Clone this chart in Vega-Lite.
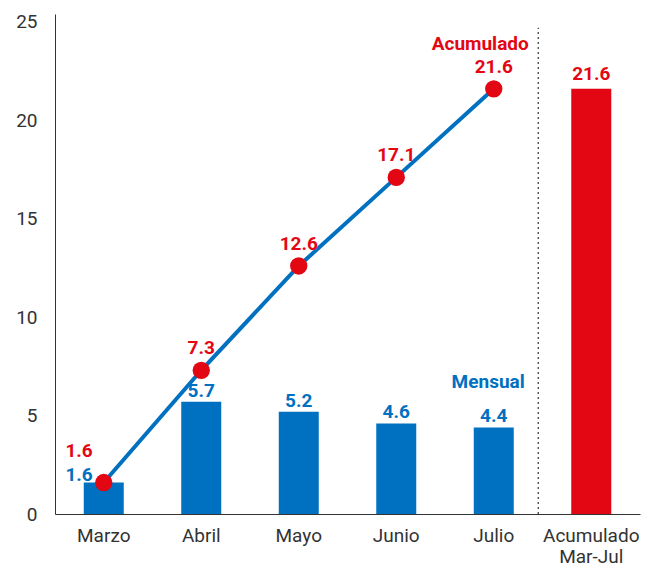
{
  "$schema": "https://vega.github.io/schema/vega-lite/v6.json",
  "width": 585,
  "height": 500,
  "autosize": "none",
  "padding": {"left": 55, "top": 14, "right": 5, "bottom": 56},
  "background": "white",
  "config": {
    "font": "Liberation Sans Narrow, Roboto, sans-serif",
    "view": {"stroke": null},
    "axis": {"grid": false}
  },
  "datasets": {
    "meses": [
      {"mes": "Marzo", "mensual": 1.6, "acumulado": 1.6},
      {"mes": "Abril", "mensual": 5.7, "acumulado": 7.3},
      {"mes": "Mayo", "mensual": 5.2, "acumulado": 12.6},
      {"mes": "Junio", "mensual": 4.6, "acumulado": 17.1},
      {"mes": "Julio", "mensual": 4.4, "acumulado": 21.6}
    ],
    "total": [
      {"mes": "Acumulado Mar-Jul", "valor": 21.6}
    ],
    "uno": [{}]
  },
  "layer": [
    {
      "data": {"name": "meses"},
      "mark": {"type": "bar", "size": 40, "color": "#0070C0"},
      "encoding": {
        "x": {
          "field": "mes", "type": "nominal",
          "scale": {"domain": ["Marzo", "Abril", "Mayo", "Junio", "Julio", "Acumulado Mar-Jul"]},
          "sort": null,
          "axis": {
            "title": null, "labelAngle": 0, "ticks": false, "domainColor": "#333333",
            "labelFontSize": 19, "labelColor": "#333333", "labelPadding": 12,
            "labelExpr": "split(datum.label, ' ')", "labelLineHeight": 21
          }
        },
        "y": {
          "field": "mensual", "type": "quantitative",
          "scale": {"domain": [0, 25.4], "nice": false},
          "axis": {
            "title": null, "values": [0, 5, 10, 15, 20, 25], "ticks": false,
            "domainColor": "#333333", "labelFontSize": 19, "labelColor": "#333333",
            "labelPadding": 18
          }
        }
      }
    },
    {
      "data": {"name": "total"},
      "mark": {"type": "bar", "size": 40, "color": "#E30613"},
      "encoding": {
        "x": {"field": "mes", "type": "nominal"},
        "y": {"field": "valor", "type": "quantitative"}
      }
    },
    {
      "data": {"name": "total"},
      "mark": {"type": "text", "color": "#E30613", "fontWeight": "bold", "fontSize": 19, "baseline": "alphabetic", "dy": -9},
      "encoding": {
        "x": {"field": "mes", "type": "nominal"},
        "y": {"field": "valor", "type": "quantitative"},
        "text": {"field": "valor", "type": "quantitative", "format": ".1f"}
      }
    },
    {
      "data": {"name": "meses"},
      "transform": [{"filter": "datum.mes !== 'Marzo'"}],
      "mark": {"type": "text", "color": "#0070C0", "fontWeight": "bold", "fontSize": 19, "baseline": "alphabetic", "dy": -5},
      "encoding": {
        "x": {"field": "mes", "type": "nominal"},
        "y": {"field": "mensual", "type": "quantitative"},
        "text": {"field": "mensual", "type": "quantitative", "format": ".1f"}
      }
    },
    {
      "data": {"name": "meses"},
      "mark": {"type": "line", "color": "#0070C0", "strokeWidth": 4},
      "encoding": {
        "x": {"field": "mes", "type": "nominal"},
        "y": {"field": "acumulado", "type": "quantitative"}
      }
    },
    {
      "data": {"name": "meses"},
      "mark": {"type": "point", "filled": true, "color": "#E30613", "size": 300, "opacity": 1},
      "encoding": {
        "x": {"field": "mes", "type": "nominal"},
        "y": {"field": "acumulado", "type": "quantitative"}
      }
    },
    {
      "data": {"name": "meses"},
      "transform": [{"filter": "datum.mes !== 'Marzo'"}],
      "mark": {"type": "text", "color": "#E30613", "fontWeight": "bold", "fontSize": 19, "baseline": "alphabetic", "dy": -16},
      "encoding": {
        "x": {"field": "mes", "type": "nominal"},
        "y": {"field": "acumulado", "type": "quantitative"},
        "text": {"field": "acumulado", "type": "quantitative", "format": ".1f"}
      }
    },
    {
      "data": {"name": "meses"},
      "transform": [{"filter": "datum.mes === 'Marzo'"}],
      "mark": {"type": "text", "color": "#E30613", "fontWeight": "bold", "fontSize": 19, "baseline": "alphabetic", "align": "right", "dx": -11, "dy": -26},
      "encoding": {
        "x": {"field": "mes", "type": "nominal"},
        "y": {"field": "acumulado", "type": "quantitative"},
        "text": {"field": "acumulado", "type": "quantitative", "format": ".1f"}
      }
    },
    {
      "data": {"name": "meses"},
      "transform": [{"filter": "datum.mes === 'Marzo'"}],
      "mark": {"type": "text", "color": "#0070C0", "fontWeight": "bold", "fontSize": 19, "baseline": "alphabetic", "align": "right", "dx": -11, "dy": -2},
      "encoding": {
        "x": {"field": "mes", "type": "nominal"},
        "y": {"field": "mensual", "type": "quantitative"},
        "text": {"field": "mensual", "type": "quantitative", "format": ".1f"}
      }
    },
    {
      "data": {"name": "uno"},
      "mark": {"type": "rule", "color": "#333333", "strokeDash": [2, 3], "strokeWidth": 1.2, "xOffset": -53},
      "encoding": {
        "x": {"datum": "Acumulado Mar-Jul"},
        "y": {"datum": 0},
        "y2": {"datum": 24.7}
      }
    },
    {
      "data": {"name": "uno"},
      "mark": {"type": "text", "text": "Acumulado", "color": "#E30613", "fontWeight": "bold", "fontSize": 19, "align": "right", "baseline": "alphabetic", "xOffset": 35},
      "encoding": {
        "x": {"datum": "Julio"},
        "y": {"datum": 23.55}
      }
    },
    {
      "data": {"name": "uno"},
      "mark": {"type": "text", "text": "Mensual", "color": "#0070C0", "fontWeight": "bold", "fontSize": 19, "align": "right", "baseline": "alphabetic", "xOffset": 31},
      "encoding": {
        "x": {"datum": "Julio"},
        "y": {"datum": 6.4}
      }
    }
  ]
}
